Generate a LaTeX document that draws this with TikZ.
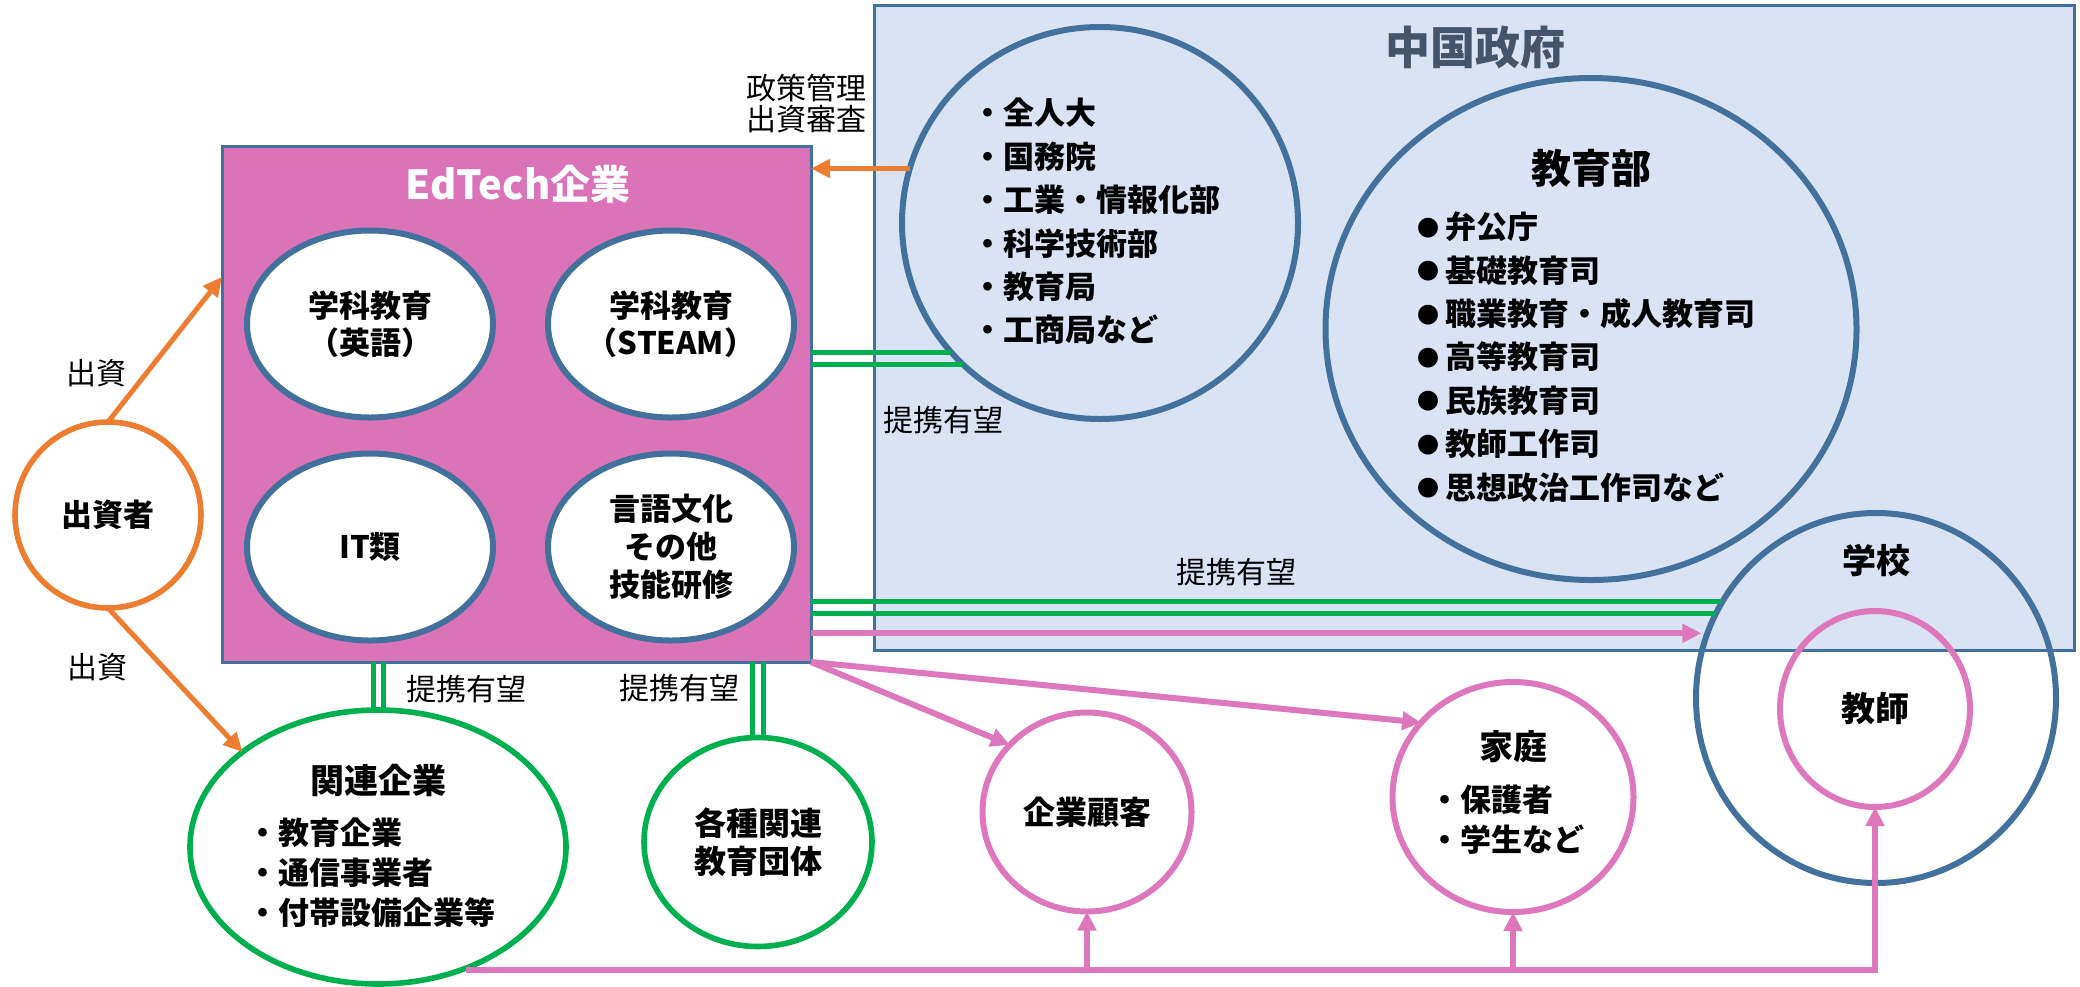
\documentclass[tikz,border=0pt]{standalone}
\usepackage{fontspec}
\setmainfont{Noto Sans CJK JP}
\usetikzlibrary{shapes.geometric, arrows.meta}
\definecolor{bborder}{RGB}{65,113,156}
\definecolor{govfill}{RGB}{218,227,243}
\definecolor{pinkbox}{RGB}{218,115,183}
\definecolor{pinkln}{RGB}{222,120,188}
\definecolor{orng}{RGB}{237,125,49}
\definecolor{grn}{RGB}{0,176,80}
\definecolor{titlegray}{RGB}{68,84,106}
\newcommand\mybul{\makebox[14pt][l]{\raisebox{1.2pt}{\fontsize{11}{11}\selectfont ●}}}
\begin{document}
\begin{tikzpicture}[x=0.5pt,y=-0.5pt,
  every node/.style={inner sep=0pt, outer sep=0pt},
  bluecirc/.style={ellipse, draw=bborder, line width=3pt},
  whitecirc/.style={ellipse, draw=bborder, fill=white, line width=3pt, align=center,
     minimum width=123pt, minimum height=93.5pt, font=\fontsize{15.5}{18.5}\selectfont\bfseries},
  greencirc/.style={ellipse, draw=grn, fill=white, line width=2.8pt, align=center},
  pinkcirc/.style={ellipse, draw=pinkln, line width=3pt, align=center},
  boldA/.style={font=\fontsize{17}{20}\selectfont\bfseries},
  listA/.style={align=left, anchor=west, font=\fontsize{15.5}{21.7}\selectfont\bfseries},
  listB/.style={align=left, anchor=west, font=\fontsize{15.5}{20}\selectfont\bfseries},
  lbl/.style={font=\fontsize{15}{15.5}\selectfont, align=center},
  tipA/.style={-{Triangle[length=9.5pt,width=9pt]}},
  orangearrow/.style={draw=orng, line width=2.5pt, tipA},
  greenline/.style={draw=grn, line width=2.5pt},
  pinkarrow/.style={draw=pinkln, line width=3pt, tipA}
]
\useasboundingbox (0,0) rectangle (2080,986);
\fill[white] (0,0) rectangle (2080,986);

% government box
\node[rectangle, draw=bborder, fill=govfill, line width=1.5pt,
      minimum width=600pt, minimum height=322.5pt] (gov) at (1474,327.5) {};
\node[font=\fontsize{22.5}{27}\selectfont\bfseries, text=titlegray] (govtitle) at (1475,47) {中国政府};

% EdTech box
\node[rectangle, draw=bborder, fill=pinkbox, line width=1.5pt,
      minimum width=294.5pt, minimum height=258pt] (edtech) at (516.5,404) {};
\node[font=\fontsize{20}{24}\selectfont\bfseries, text=white] (edtitle) at (518,184) {EdTech企業};
\node[whitecirc] (c1) at (370,324) {学科教育\\（英語）};
\node[whitecirc] (c2) at (671,324) {学科教育\\（STEAM）};
\node[whitecirc] (c3) at (370,547) {IT類};
\node[whitecirc, font=\fontsize{15.5}{19}\selectfont\bfseries] (c4) at (671,547) {言語文化\\その他\\技能研修};

% investor
\node[ellipse, draw=orng, fill=white, line width=2.8pt, minimum width=93pt, minimum height=93pt,
      font=\fontsize{15.5}{18}\selectfont\bfseries] (investor) at (108,515) {出資者};

% government bodies
\node[bluecirc, minimum width=198pt, minimum height=196pt] (gov1) at (1100,223) {};
\node[listA] (gov1list) at (972,221.5) {・全人大\\・国務院\\・工業・情報化部\\・科学技術部\\・教育局\\・工商局など};

\node[bluecirc, minimum width=265.5pt, minimum height=251pt] (moe) at (1591,329) {};
\node[font=\fontsize{20}{24}\selectfont\bfseries] (moetitle) at (1591,168) {教育部};
\node[listA] (moelist) at (1417,357) {\mybul 弁公庁\\\mybul 基礎教育司\\\mybul 職業教育・成人教育司\\\mybul 高等教育司\\\mybul 民族教育司\\\mybul 教師工作司\\\mybul 思想政治工作司など};

% school and teacher
\node[bluecirc, minimum width=180pt, minimum height=185pt] (school) at (1876,698) {};
\node[boldA] (schooltitle) at (1876,561) {学校};
\node[pinkcirc, minimum width=95pt, minimum height=98pt, boldA] (teacher) at (1875,709) {教師};

% related companies
\node[greencirc, minimum width=188pt, minimum height=137pt] (related) at (378,847) {};
\node[boldA] (reltitle) at (378,780) {関連企業};
\node[listB] (rellist) at (247,873) {・教育企業\\・通信事業者\\・付帯設備企業等};

\node[greencirc, minimum width=114pt, minimum height=104.5pt,
      font=\fontsize{16}{19}\selectfont\bfseries] (assoc) at (758,842) {各種関連\\教育団体};

% customers
\node[pinkcirc, fill=white, minimum width=104.5pt, minimum height=99.5pt,
      font=\fontsize{16}{19}\selectfont\bfseries] (client) at (1087,812) {企業顧客};
\node[pinkcirc, fill=white, minimum width=120.5pt, minimum height=115pt] (family) at (1513,797) {};
\node[boldA] (famtitle) at (1513,747) {家庭};
\node[listB] (famlist) at (1429,820) {・保護者\\・学生など};

% labels
\node[lbl] (linv1) at (96,373) {出資};
\node[lbl] (linv2) at (97,667) {出資};
\node[lbl] (lpolicy) at (806,104) {政策管理\\出資審査};
\node[lbl] (lpart1) at (943,420) {提携有望};
\node[lbl] (lpart2) at (1236,572) {提携有望};
\node[lbl] (lpart3) at (466,689) {提携有望};
\node[lbl] (lpart4) at (679,688) {提携有望};

% orange connectors
\coordinate (invtip) at (222,277);
\draw[orangearrow] (investor.north) -- (invtip);
\draw[orangearrow] (investor.south) -- (related.145);
\draw[orangearrow] (gov1.164) -- (edtech.east |- gov1.164);

% green partnership lines
\draw[greenline] (edtech.east |- gov1.221) -- (gov1.221);
\draw[greenline] (edtech.east |- gov1.226) -- (gov1.226);
\draw[greenline] (edtech.east |- school.148) -- (school.148);
\draw[greenline] (edtech.east |- school.152) -- (school.152);
\draw[greenline] ([xshift=-2.5pt]related.north |- edtech.south) -- ([xshift=-2.5pt]related.north);
\draw[greenline] ([xshift=2.5pt]related.north |- edtech.south) -- ([xshift=2.5pt]related.north);
\draw[greenline] ([xshift=-2.75pt]assoc.north |- edtech.south) -- ([xshift=-2.75pt]assoc.north);
\draw[greenline] ([xshift=2.75pt]assoc.north |- edtech.south) -- ([xshift=2.75pt]assoc.north);

% pink connectors
\draw[pinkarrow, shorten >=3pt] (edtech.east |- school.159) -- (school.159);
\draw[pinkarrow] (edtech.south east) -- (client.139);
\draw[pinkarrow] (edtech.south east) -- (family.141);
\coordinate (busL) at (466,970);
\draw[pinkarrow] (busL) -- (busL -| teacher.south) -- (teacher.south);
\draw[pinkarrow] (busL -| client.south) -- (client.south);
\draw[pinkarrow] (busL -| family.south) -- (family.south);
\end{tikzpicture}
\end{document}
